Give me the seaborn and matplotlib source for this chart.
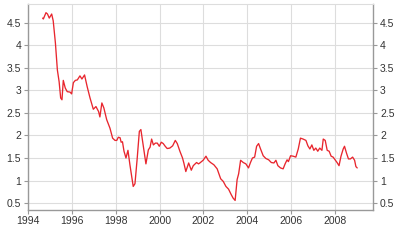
import numpy as np
import pandas as pd
import matplotlib
matplotlib.use("Agg")
import matplotlib.pyplot as plt
import seaborn as sns

years = [1994.67, 1994.70, 1994.82, 1994.89, 1994.97, 1995.08, 1995.15, 1995.25, 1995.34,
         1995.42, 1995.49, 1995.55, 1995.61, 1995.70, 1995.79, 1995.92, 1995.99, 1996.07,
         1996.16, 1996.25, 1996.37, 1996.46, 1996.58, 1996.70, 1996.83, 1996.98, 1997.10,
         1997.22, 1997.28, 1997.37, 1997.46, 1997.59, 1997.74, 1997.86, 1997.97, 1998.05,
         1998.12, 1998.20, 1998.25, 1998.31, 1998.38, 1998.47, 1998.56, 1998.65, 1998.74,
         1998.80, 1998.88, 1998.98, 1999.08, 1999.15, 1999.26, 1999.38, 1999.49, 1999.57,
         1999.64, 1999.72, 1999.81, 1999.90, 1999.99, 2000.08, 2000.17, 2000.26, 2000.35,
         2000.47, 2000.60, 2000.72, 2000.81, 2000.93, 2001.05, 2001.11, 2001.20, 2001.33,
         2001.45, 2001.54, 2001.69, 2001.78, 2001.84, 2001.99, 2002.12, 2002.22, 2002.33,
         2002.48, 2002.63, 2002.79, 2002.91, 2003.03, 2003.15, 2003.27, 2003.36, 2003.45,
         2003.54, 2003.61, 2003.70, 2003.82, 2003.94, 2004.06, 2004.15, 2004.24, 2004.34,
         2004.43, 2004.52, 2004.61, 2004.73, 2004.85, 2004.98, 2005.10, 2005.22, 2005.31,
         2005.40, 2005.52, 2005.64, 2005.73, 2005.82, 2005.88, 2005.98, 2006.10, 2006.22,
         2006.33, 2006.43, 2006.55, 2006.68, 2006.77, 2006.86, 2006.95, 2007.04, 2007.13,
         2007.22, 2007.31, 2007.41, 2007.47, 2007.56, 2007.65, 2007.74, 2007.83, 2007.92,
         2008.01, 2008.10, 2008.19, 2008.28, 2008.38, 2008.44, 2008.53, 2008.62, 2008.71,
         2008.81, 2008.90, 2008.96, 2009.02]
rates = [4.60, 4.58, 4.72, 4.69, 4.60, 4.69, 4.54, 4.05, 3.45,
         3.19, 2.83, 2.79, 3.22, 3.05, 2.97, 2.96, 2.92, 3.17,
         3.22, 3.23, 3.32, 3.25, 3.34, 3.08, 2.83, 2.58, 2.64,
         2.53, 2.41, 2.72, 2.61, 2.35, 2.16, 1.94, 1.89, 1.89,
         1.96, 1.95, 1.85, 1.86, 1.65, 1.50, 1.67, 1.35, 1.06,
         0.87, 0.93, 1.48, 2.09, 2.13, 1.76, 1.37, 1.68, 1.74,
         1.92, 1.79, 1.83, 1.83, 1.76, 1.85, 1.82, 1.76, 1.71,
         1.72, 1.77, 1.89, 1.82, 1.65, 1.50, 1.39, 1.20, 1.39,
         1.23, 1.33, 1.40, 1.37, 1.39, 1.45, 1.54, 1.45, 1.40,
         1.35, 1.26, 1.04, 0.98, 0.87, 0.81, 0.69, 0.61, 0.56,
         1.02, 1.15, 1.45, 1.40, 1.37, 1.28, 1.40, 1.50, 1.52,
         1.76, 1.82, 1.70, 1.55, 1.49, 1.46, 1.40, 1.39, 1.45,
         1.33, 1.28, 1.26, 1.37, 1.46, 1.42, 1.55, 1.54, 1.52,
         1.70, 1.94, 1.92, 1.89, 1.77, 1.70, 1.79, 1.67, 1.72,
         1.65, 1.72, 1.67, 1.92, 1.89, 1.67, 1.65, 1.54, 1.52,
         1.46, 1.40, 1.33, 1.54, 1.70, 1.76, 1.61, 1.48, 1.48,
         1.52, 1.45, 1.31, 1.28]

x_ticks = [1994, 1996, 1998, 2000, 2002, 2004, 2006, 2008]
x_labels = ["1994", "1996", "1998", "2000", "2002", "2004", "2006", "2008"]
y_ticks = [0.5, 1, 1.5, 2, 2.5, 3, 3.5, 4, 4.5]
y_labels = ["0.5", "1", "1.5", "2", "2.5", "3", "3.5", "4", "4.5"]

df = pd.DataFrame({"year": years, "rate": rates})

sns.set_theme(style="white")
plt.rcParams["font.family"] = ["Liberation Sans", "DejaVu Sans"]

fig = plt.figure(figsize=(4.0, 2.41), dpi=100)
ax = fig.add_axes([0.07, 0.129, 0.8625, 0.854])
sns.lineplot(data=df, x="year", y="rate", ax=ax, color="#e8262e", linewidth=0.95)

ax.set_xlim(1994, 2009.74)
ax.set_ylim(0.35, 4.91)
ax.set_xticks(x_ticks)
ax.set_xticklabels(x_labels)
ax.set_yticks(y_ticks)
ax.set_yticklabels(y_labels)
ax.set_xlabel("")
ax.set_ylabel("")
ax.grid(True, color="#dddddd", linewidth=0.8)
ax.set_axisbelow(True)

for side in ["left", "right", "bottom"]:
    ax.spines[side].set_visible(True)
    ax.spines[side].set_color("#999999")
    ax.spines[side].set_linewidth(1.0)
ax.spines["top"].set_visible(True)
ax.spines["top"].set_color("#dddddd")
ax.spines["top"].set_linewidth(0.8)

ax.tick_params(axis="y", which="both", left=True, right=True, labelleft=True,
               labelright=True, length=3, width=0.8, color="#999999",
               labelsize=7.5, labelcolor="#333333", pad=2)
ax.tick_params(axis="x", bottom=True, length=3, width=0.8, color="#999999",
               labelsize=7.5, labelcolor="#333333", pad=1.5)

fig.savefig("out.png", dpi=100, facecolor="white")
